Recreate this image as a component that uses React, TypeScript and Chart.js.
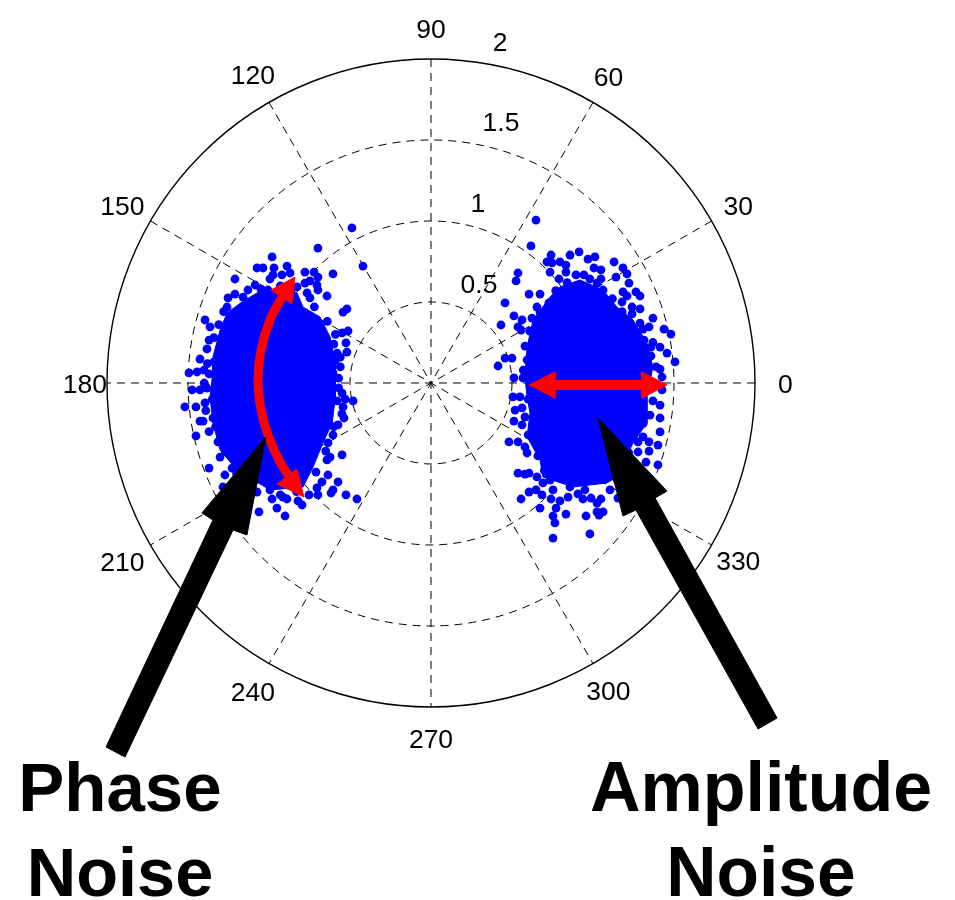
import React, { useEffect, useRef } from "react";
import { Chart, registerables } from "chart.js";

Chart.register(...registerables);

type P = [number, number];

const BLUE = "#0000ff";
const RED = "#ff0000";

const radialTicks = [0.5, 1, 1.5, 2];
const spokeAngles = [0, 30, 60, 90, 120, 150];
const angleLabels: P[] = [
  [0, 2.187], [30, 2.19], [60, 2.19], [90, 2.19], [120, 2.2], [150, 2.2],
  [180, 2.136], [210, 2.2], [240, 2.2], [270, 2.19], [300, 2.19], [330, 2.19],
];
const radialLabels: [string, number, number][] = [
  ["0.5", 0.296, 0.617],
  ["1", 0.29, 1.117],
  ["1.5", 0.432, 1.617],
  ["2", 0.426, 2.111],
];

const leftCore: P[] = [
  [-1.352, 0.019], [-1.346, 0.16], [-1.302, 0.327], [-1.259, 0.432], [-1.167, 0.5], [-1.074, 0.556],
  [-0.994, 0.574], [-0.827, 0.556], [-0.79, 0.469], [-0.685, 0.407], [-0.623, 0.284], [-0.59, 0.123],
  [-0.59, -0.086], [-0.61, -0.247], [-0.667, -0.37], [-0.728, -0.519], [-0.79, -0.642], [-0.994, -0.66],
  [-1.198, -0.537], [-1.302, -0.414], [-1.346, -0.247], [-1.364, -0.086], [-1.352, 0.019],
];

const rightCore: P[] = [
  [0.58, 0.037], [0.593, 0.222], [0.63, 0.389], [0.735, 0.531], [0.796, 0.593], [0.92, 0.636],
  [1.062, 0.574], [1.148, 0.469], [1.247, 0.389], [1.333, 0.247], [1.37, 0.099], [1.333, -0.086],
  [1.333, -0.247], [1.247, -0.37], [1.148, -0.58], [1.086, -0.617], [0.877, -0.642], [0.691, -0.58],
  [0.673, -0.475], [0.593, -0.333], [0.611, -0.185], [0.593, -0.086], [0.58, 0.037],
];

const leftUpper: P[] = [
  [-0.698, 0.833], [-0.981, 0.778], [-0.889, 0.722], [-1.074, 0.71], [-1.037, 0.71], [-0.969, 0.71],
  [-0.975, 0.667], [-0.994, 0.642], [-0.92, 0.667], [-0.87, 0.679], [-1.21, 0.642], [-1.086, 0.605],
  [-1.13, 0.574], [-1.006, 0.574], [-0.778, 0.685], [-0.722, 0.685], [-0.698, 0.654], [-0.605, 0.673],
  [-0.747, 0.63], [-0.778, 0.617], [-0.704, 0.605], [-0.698, 0.574], [-0.827, 0.593], [-0.765, 0.556],
  [-0.747, 0.525], [-0.642, 0.537], [-1.21, 0.549], [-1.253, 0.525], [-1.259, 0.469], [-0.519, 0.457],
  [-0.543, 0.438], [-1.395, 0.389], [-1.364, 0.346], [-0.512, 0.321], [-0.549, 0.309], [-0.525, 0.247],
  [-1.37, 0.265], [-1.383, 0.21], [-1.426, 0.148], [-1.494, 0.062], [-1.444, 0.068], [-1.401, 0.08],
  [-1.37, 0.056], [-0.519, 0.191], [-0.58, 0.185], [-0.605, 0.062], [-0.42, 0.722], [-0.488, 0.957],
  [-1.16, 0.53], [-0.93, 0.6], [-0.86, 0.58], [-0.72, 0.47], [-0.64, 0.38], [-0.59, 0.3], [-0.59, 0.14],
  [-0.57, 0.03], [-1.31, 0.36], [-1.34, 0.28], [-1.34, 0.13], [-1.28, 0.44], [-1.05, 0.58],
  [-0.56, 0.1], [-0.56, 0.16], [-0.6, 0.24], [-1.38, 0.12], [-1.4, 0.0],
];

const leftLower: P[] = [
  [-1.519, -0.148], [-1.475, -0.043], [-1.426, -0.043], [-1.383, -0.031], [-1.451, -0.148], [-1.395, -0.123],
  [-1.426, -0.235], [-1.407, -0.235], [-1.451, -0.327], [-1.346, -0.216], [-1.315, -0.364], [-1.302, -0.457],
  [-1.37, -0.525], [-1.272, -0.568], [-1.228, -0.525], [-1.284, -0.642], [-1.062, -0.796], [-0.901, -0.821],
  [-0.951, -0.772], [-0.981, -0.716], [-0.914, -0.704], [-0.889, -0.716], [-0.796, -0.753], [-0.821, -0.728],
  [-0.753, -0.691], [-0.698, -0.691], [-0.617, -0.679], [-0.605, -0.66], [-0.574, -0.611], [-0.525, -0.691],
  [-0.457, -0.716], [-0.636, -0.568], [-0.673, -0.611], [-0.704, -0.648], [-0.549, -0.444], [-0.623, -0.457],
  [-0.642, -0.475], [-0.636, -0.37], [-0.605, -0.321], [-0.537, -0.216], [-0.481, -0.111], [-0.543, -0.148],
  [-0.549, -0.062], [-0.574, -0.259], [-1.074, -0.673], [-0.994, -0.66],
  [-1.35, -0.1], [-1.33, -0.27], [-1.27, -0.42], [-1.2, -0.56], [-1.13, -0.62], [-0.93, -0.69], [-0.83, -0.67],
  [-0.71, -0.55], [-0.65, -0.42], [-0.6, -0.27], [-0.58, -0.11],
  [-0.53, -0.1], [-0.55, -0.19], [-0.57, -0.03], [-1.39, -0.17], [-1.37, -0.3],
];

const rightUpper: P[] = [
  [0.648, 1.006], [0.617, 0.846], [0.537, 0.679], [0.525, 0.63], [0.605, 0.549], [0.673, 0.549],
  [0.457, 0.494], [0.512, 0.414], [0.432, 0.358], [0.562, 0.389], [0.537, 0.346], [0.556, 0.327],
  [0.457, 0.154], [0.5, 0.154], [0.414, 0.105], [0.741, 0.79], [0.858, 0.79], [0.914, 0.809],
  [0.716, 0.747], [0.747, 0.741], [0.796, 0.747], [0.833, 0.728], [0.735, 0.685], [0.833, 0.685],
  [0.79, 0.642], [0.969, 0.765], [1.012, 0.778], [1.13, 0.747], [1.185, 0.71], [1.006, 0.71],
  [1.049, 0.698], [1.142, 0.654], [1.21, 0.673], [1.222, 0.617], [0.895, 0.667], [0.944, 0.667],
  [1.049, 0.642], [0.981, 0.642], [1.025, 0.617], [1.062, 0.574], [1.185, 0.562], [1.265, 0.562],
  [1.29, 0.537], [1.21, 0.537], [1.179, 0.5], [1.29, 0.457], [1.241, 0.469], [1.241, 0.426],
  [1.37, 0.401], [1.29, 0.37], [1.346, 0.346], [1.309, 0.333], [1.438, 0.333], [1.481, 0.302],
  [1.315, 0.265], [1.358, 0.222], [1.414, 0.222], [1.457, 0.185], [1.506, 0.13], [1.414, 0.086],
  [1.358, 0.167], [1.426, 0.037], [0.512, 0.031], [0.568, 0.031], [0.58, 0.228], [0.593, 0.142],
  [0.623, 0.401], [0.654, 0.469], [0.673, 0.438], [0.728, 0.494],
  [0.77, 0.57], [0.84, 0.62], [1.12, 0.52], [1.18, 0.44], [1.37, 0.25], [1.39, 0.1], [0.61, 0.32], [0.57, 0.08],
];

const rightLower: P[] = [
  [0.506, -0.086], [0.549, -0.086], [0.519, -0.167], [0.562, -0.154], [0.512, -0.235], [0.562, -0.259],
  [0.481, -0.364], [0.537, -0.364], [0.58, -0.395], [0.593, -0.432], [0.537, -0.556], [0.58, -0.562],
  [0.605, -0.556], [0.654, -0.58], [0.691, -0.617], [0.753, -0.66], [0.605, -0.673], [0.648, -0.66],
  [0.685, -0.691], [0.556, -0.716], [0.673, -0.772], [0.741, -0.716], [0.796, -0.728], [0.772, -0.772],
  [0.753, -0.821], [0.765, -0.864], [0.753, -0.957], [0.833, -0.809], [0.957, -0.821], [0.981, -0.932],
  [0.846, -0.704], [0.907, -0.685], [0.938, -0.716], [0.988, -0.71], [1.049, -0.716], [1.025, -0.741],
  [1.025, -0.796], [1.062, -0.796], [1.037, -0.815], [1.105, -0.66], [1.154, -0.71], [1.401, -0.506],
  [1.327, -0.488], [1.278, -0.426], [1.346, -0.42], [1.401, -0.383], [1.346, -0.364], [1.278, -0.364],
  [1.414, -0.302], [1.414, -0.216], [1.414, -0.136], [1.352, -0.198], [1.309, -0.333], [1.426, -0.043],
  [0.735, -0.599], [0.858, -0.642],
  [0.6, -0.1], [0.58, -0.21], [0.6, -0.32], [0.66, -0.45], [0.7, -0.54], [0.95, -0.66], [1.15, -0.6],
  [1.22, -0.43], [1.31, -0.25], [1.37, -0.11],
];

const phaseArc: P[] = [
  [-0.92, 0.531], [-0.994, 0.389], [-1.049, 0.204], [-1.068, 0.019], [-1.049, -0.167], [-1.006, -0.321],
  [-0.932, -0.488], [-0.87, -0.586],
];
const phaseHeadTop: P[] = [[-0.84, 0.654], [-0.988, 0.574], [-0.858, 0.488], [-0.84, 0.654]];
const phaseHeadBottom: P[] = [[-0.784, -0.704], [-0.951, -0.623], [-0.827, -0.531], [-0.784, -0.704]];

const ampShaft: P[] = [[0.765, -0.012], [1.302, -0.012]];
const ampHeadLeft: P[] = [[0.605, -0.012], [0.765, 0.068], [0.765, -0.093], [0.605, -0.012]];
const ampHeadRight: P[] = [[1.457, -0.012], [1.302, 0.068], [1.302, -0.093], [1.457, -0.012]];

const phasePointer: P[] = [
  [-1.019, -0.333], [-1.136, -0.938], [-1.222, -0.907], [-1.889, -2.309], [-2.006, -2.247],
  [-1.346, -0.846], [-1.414, -0.802], [-1.019, -0.333],
];
const ampPointer: P[] = [
  [1.031, -0.216], [1.457, -0.667], [1.383, -0.71], [2.136, -2.068], [2.019, -2.136],
  [1.265, -0.784], [1.185, -0.821], [1.031, -0.216],
];

const captions: [string, number, number, number][] = [
  ["Phase", -1.92, -2.64, 69],
  ["Noise", -1.92, -3.165, 68.5],
  ["Amplitude", 2.037, -2.64, 70],
  ["Noise", 2.037, -3.165, 69.5],
];

const xy = (pts: P[]) => pts.map(([x, y]) => ({ x, y }));

const shape = (label: string, pts: P[], color: string, order: number) => ({
  label,
  data: xy(pts),
  showLine: true,
  tension: 0,
  pointRadius: 0,
  borderColor: color,
  borderWidth: 1,
  backgroundColor: color,
  fill: "shape",
  order,
});

const stroke = (label: string, pts: P[], width: number, order: number) => ({
  label,
  data: xy(pts),
  showLine: true,
  tension: 0.35,
  pointRadius: 0,
  borderColor: RED,
  borderWidth: width,
  fill: false,
  order,
});

const dots = (label: string, pts: P[]) => ({
  label,
  data: xy(pts),
  showLine: false,
  pointRadius: 4.4,
  pointBorderWidth: 0,
  pointBackgroundColor: BLUE,
  order: 9,
});

const polarFrame = {
  id: "polarFrame",
  beforeDatasetsDraw(chart: any) {
    const { ctx, scales } = chart;
    const px = (v: number) => scales.x.getPixelForValue(v);
    const py = (v: number) => scales.y.getPixelForValue(v);
    const cx = px(0);
    const cy = py(0);
    ctx.save();
    ctx.strokeStyle = "#000";
    ctx.lineWidth = 1;
    ctx.setLineDash([8, 6]);
    for (const a of spokeAngles) {
      const t = (a * Math.PI) / 180;
      ctx.beginPath();
      ctx.moveTo(px(2 * Math.cos(t)), py(2 * Math.sin(t)));
      ctx.lineTo(px(-2 * Math.cos(t)), py(-2 * Math.sin(t)));
      ctx.stroke();
    }
    for (const r of radialTicks) {
      ctx.beginPath();
      ctx.setLineDash(r === 2 ? [] : [8, 6]);
      ctx.lineWidth = r === 2 ? 1.4 : 1;
      ctx.arc(cx, cy, px(r) - cx, 0, Math.PI * 2);
      ctx.stroke();
    }
    ctx.restore();
  },
  afterDatasetsDraw(chart: any) {
    const { ctx, scales } = chart;
    const px = (v: number) => scales.x.getPixelForValue(v);
    const py = (v: number) => scales.y.getPixelForValue(v);
    ctx.save();
    ctx.fillStyle = "#000";
    ctx.textAlign = "center";
    ctx.textBaseline = "middle";
    ctx.font = '26.5px "Liberation Sans"';
    for (const [a, r] of angleLabels) {
      const t = (a * Math.PI) / 180;
      ctx.fillText(String(a), px(r * Math.cos(t)), py(r * Math.sin(t)) + 2.5);
    }
    for (const [s, x, y] of radialLabels) ctx.fillText(s, px(x), py(y) + 2.5);
    ctx.textBaseline = "alphabetic";
    for (const [s, x, y, size] of captions) {
      ctx.font = `bold ${size}px "Liberation Sans"`;
      ctx.fillText(s, px(x), py(y));
    }
    ctx.restore();
  },
};

export default function App() {
  const ref = useRef<HTMLCanvasElement>(null);
  useEffect(() => {
    document.body.style.margin = "0";
    const chart = new Chart(ref.current as HTMLCanvasElement, {
      type: "scatter",
      data: {
        datasets: [
          shape("Phase pointer", phasePointer, "#000000", 0),
          shape("Amplitude pointer", ampPointer, "#000000", 0),
          shape("Phase head top", phaseHeadTop, RED, 1),
          shape("Phase head bottom", phaseHeadBottom, RED, 1),
          shape("Amplitude head left", ampHeadLeft, RED, 1),
          shape("Amplitude head right", ampHeadRight, RED, 1),
          stroke("Phase arc", phaseArc, 9, 2),
          stroke("Amplitude shaft", ampShaft, 10, 2),
          dots("Left cloud upper", leftUpper),
          dots("Left cloud lower", leftLower),
          dots("Right cloud upper", rightUpper),
          dots("Right cloud lower", rightLower),
          shape("Left cloud core", leftCore, BLUE, 10),
          shape("Right cloud core", rightCore, BLUE, 10),
        ] as any,
      },
      options: {
        animation: false,
        responsive: false,
        layout: { padding: 0, autoPadding: false },
        clip: false as any,
        plugins: { legend: { display: false }, tooltip: { enabled: false } },
        scales: {
          x: { display: false, min: -2.6605, max: 3.2346 },
          y: { display: false, min: -3.1914, max: 2.3642 },
        },
      },
      plugins: [polarFrame],
    });
    return () => chart.destroy();
  }, []);
  return (
    <canvas
      ref={ref}
      width={955}
      height={900}
      style={{ display: "block", width: 955, height: 900 }}
    />
  );
}
